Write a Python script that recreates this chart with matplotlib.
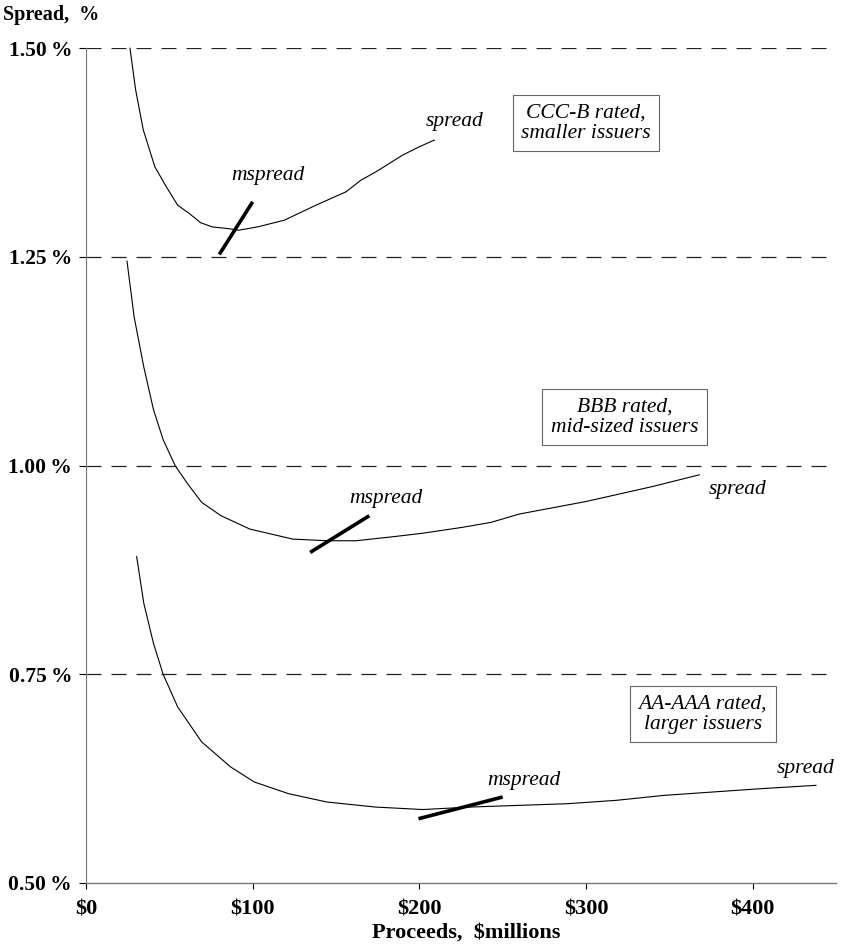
import numpy as np
import matplotlib
matplotlib.use('Agg')
import matplotlib.pyplot as plt

plt.rcParams['font.family'] = ['Liberation Serif', 'DejaVu Serif']

# spread curves (proceeds in $millions, spread in %)
ccc_x = [26.4, 29.8, 34.4, 41.3, 48.2, 55, 62, 68.8, 75.7, 84.9, 91.7, 103, 119, 138, 156, 165, 174, 190, 200, 209]
ccc_y = [1.50, 1.450, 1.402, 1.358, 1.334, 1.312, 1.302, 1.291, 1.286, 1.284, 1.282, 1.286, 1.294, 1.312, 1.328, 1.342, 1.352, 1.372, 1.382, 1.390]

bbb_x = [24.6, 28.9, 34.7, 40.5, 46.3, 53.5, 60.7, 69.4, 81, 98.3, 124, 144.6, 162, 185, 202, 225.6, 243, 260, 300, 340, 368]
bbb_y = [1.245, 1.178, 1.118, 1.067, 1.031, 1.000, 0.979, 0.956, 0.940, 0.924, 0.912, 0.910, 0.910, 0.915, 0.919, 0.926, 0.932, 0.942, 0.957, 0.975, 0.989]

aaa_x = [30.4, 34.7, 40.5, 46.3, 55, 69.4, 86.8, 101, 121.5, 144.6, 173.5, 202, 231, 260, 289, 318, 347, 376, 405, 438]
aaa_y = [0.891, 0.835, 0.787, 0.750, 0.711, 0.669, 0.639, 0.621, 0.607, 0.597, 0.591, 0.588, 0.591, 0.593, 0.595, 0.599, 0.605, 0.609, 0.613, 0.617]

# marginal spread segments
ccc_m_x = [80, 100]
ccc_m_y = [1.253, 1.316]
bbb_m_x = [134.5, 170]
bbb_m_y = [0.896, 0.940]
aaa_m_x = [199.5, 250]
aaa_m_y = [0.577, 0.603]

yticks = [0.50, 0.75, 1.00, 1.25, 1.50]
ytick_labels = ['0.50\u2009%', '0.75\u2009%', '1.00\u2009%', '1.25\u2009%', '1.50\u2009%']
xticks = [0, 100, 200, 300, 400]
xtick_labels = ['$0', '$100', '$200', '$300', '$400']

fig = plt.figure(figsize=(8.43, 9.46), dpi=100)
ax = fig.add_axes([0.102, 0.0666, 0.8897, 0.8824])
ax.set_xlim(0, 450)
ax.set_ylim(0.5, 1.5)

for y in yticks[1:]:
    ax.axhline(y, color='#222222', lw=0.9, ls=(0, (12, 8)), zorder=1)

ax.plot(ccc_x, ccc_y, color='black', lw=0.8, clip_on=False)
ax.plot(bbb_x, bbb_y, color='black', lw=0.8)
ax.plot(aaa_x, aaa_y, color='black', lw=0.8)

ax.plot(ccc_m_x, ccc_m_y, color='black', lw=2.6, solid_capstyle='butt')
ax.plot(bbb_m_x, bbb_m_y, color='black', lw=2.6, solid_capstyle='butt')
ax.plot(aaa_m_x, aaa_m_y, color='black', lw=2.6, solid_capstyle='butt')

lab = dict(fontsize=15.5, style='italic', ha='center', va='center')
ax.text(221, 1.412, 'spread', **lab)
ax.text(109, 1.348, 'mspread', **lab)
ax.text(391, 0.971, 'spread', **lab)
ax.text(180, 0.961, 'mspread', **lab)
ax.text(432, 0.637, 'spread', **lab)
ax.text(263, 0.623, 'mspread', **lab)

box = dict(boxstyle='square,pad=0.4', fc='white', ec='#666666', lw=0.8)
for (bx, by, txt) in [(300, 1.410, 'CCC-B rated,\nsmaller issuers'),
                      (323, 1.058, 'BBB rated,\nmid-sized issuers'),
                      (370, 0.702, 'AA-AAA rated,\nlarger issuers')]:
    ax.text(bx, by, txt, fontsize=15.5, style='italic', ha='center', va='center',
            linespacing=1.05, bbox=box)

ax.set_yticks(yticks)
ax.set_yticklabels(ytick_labels, fontsize=15.5, fontweight='bold')
ax.set_xticks(xticks)
ax.set_xticklabels(xtick_labels, fontsize=16, fontweight='bold')
ax.tick_params(axis='y', length=5, width=0.8, direction='out', pad=5)
ax.tick_params(axis='x', length=4, width=0.8, direction='out', pad=8)

for s in ['top', 'right']:
    ax.spines[s].set_visible(False)
ax.spines['left'].set_color('#777777')
ax.spines['left'].set_linewidth(0.8)
ax.spines['bottom'].set_color('#777777')
ax.spines['bottom'].set_linewidth(1.0)

fig.text(0.004, 0.984, 'Spread,  %', fontsize=14.5, fontweight='bold', ha='left', va='center')
fig.text(466 / 843, 1 - 933 / 946, 'Proceeds,  $millions', fontsize=16, fontweight='bold',
         ha='center', va='center')

fig.savefig('out.png', dpi=100)
